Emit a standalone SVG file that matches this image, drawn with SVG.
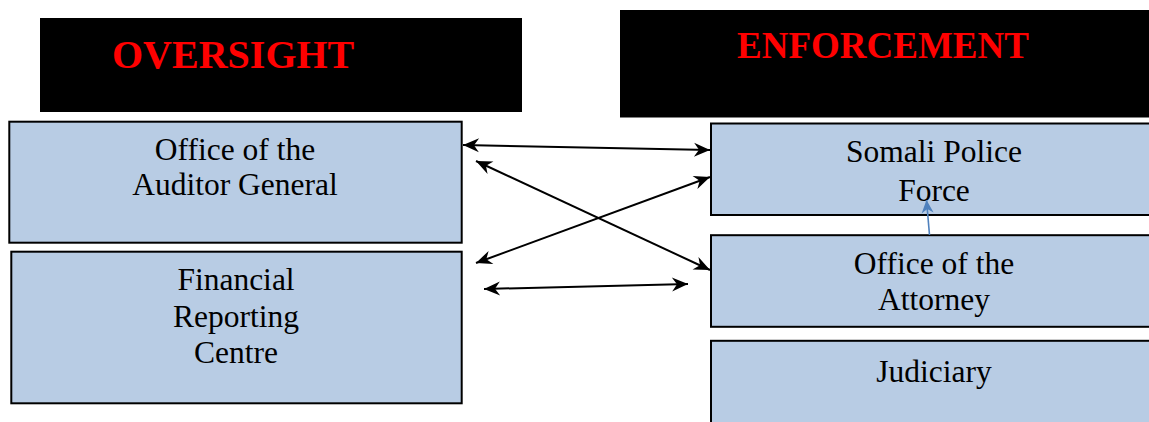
<svg xmlns="http://www.w3.org/2000/svg" width="1149" height="422" viewBox="0 0 1149 422">
<style>
.hdr{fill:#000}
.ht{font-family:"Liberation Serif","Times New Roman",serif;font-weight:bold;fill:#ff0000}
.box{fill:#b8cce4;stroke:#000;stroke-width:2}
.t{font-family:"Liberation Serif","Times New Roman",serif;font-size:31.5px;fill:#000;text-anchor:middle}
.c{stroke:#000;stroke-width:2;fill:none;marker-start:url(#ah);marker-end:url(#ah)}
</style>
<defs>
<marker id="ah" viewBox="-18 -9 19 18" refX="0" refY="0" markerWidth="19" markerHeight="18" markerUnits="userSpaceOnUse" orient="auto-start-reverse">
<path d="M0,0 L-16,-7 L-11,0 L-16,7 Z" fill="#000"/>
</marker>
<marker id="bh" viewBox="-14 -7 15 14" refX="0" refY="0" markerWidth="15" markerHeight="14" markerUnits="userSpaceOnUse" orient="auto">
<path d="M0,0 L-13,-6 L-9,0 L-13,6 Z" fill="#4f81bd"/>
</marker>
</defs>
<rect width="1149" height="422" fill="#fff"/>
<g id="oversight">
<rect class="hdr" x="40" y="18" width="482" height="94"/>
<text class="ht" x="112" y="68" font-size="40">OVERSIGHT</text>
</g>
<g id="enforcement">
<rect class="hdr" x="620" y="10" width="540" height="107.5"/>
<text class="ht" x="737" y="57.5" font-size="37">ENFORCEMENT</text>
</g>
<g id="auditor">
<rect class="box" x="9.3" y="121.7" width="452.4" height="121"/>
<text class="t" x="235" y="160">Office of the</text>
<text class="t" x="235" y="195">Auditor General</text>
</g>
<g id="frc">
<rect class="box" x="11.3" y="251.7" width="450.4" height="151.6"/>
<text class="t" x="236" y="290">Financial</text>
<text class="t" x="236" y="326.5">Reporting</text>
<text class="t" x="236" y="363">Centre</text>
</g>
<g id="police">
<rect class="box" x="711" y="123.5" width="460" height="91.5"/>
<text class="t" x="934" y="162">Somali Police</text>
<text class="t" x="934" y="201">Force</text>
</g>
<g id="attorney">
<rect class="box" x="711" y="235.2" width="460" height="91.6"/>
<text class="t" x="934" y="273.5">Office of the</text>
<text class="t" x="934" y="310">Attorney</text>
</g>
<g id="judiciary">
<rect class="box" x="711" y="340.8" width="460" height="100"/>
<text class="t" x="934" y="381.7">Judiciary</text>
</g>
<g id="connectors">
<line class="c" x1="463" y1="145" x2="710" y2="150"/>
<line class="c" x1="476" y1="161" x2="710" y2="270"/>
<line class="c" x1="476" y1="263" x2="710" y2="177"/>
<line class="c" x1="484" y1="289" x2="688" y2="284"/>
<line x1="929.5" y1="235" x2="926.5" y2="200" stroke="#4f81bd" stroke-width="1.6" marker-end="url(#bh)"/>
</g>
</svg>
